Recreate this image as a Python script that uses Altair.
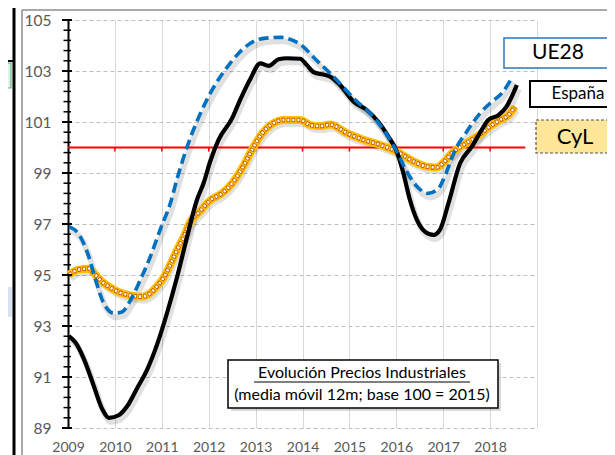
import altair as alt
import pandas as pd

# ---------------- data ----------------
esp_year = [2009.02, 2009.16, 2009.34, 2009.55, 2009.73, 2009.87, 2010.08, 2010.26, 2010.47, 2010.69,
            2010.90, 2011.11, 2011.33, 2011.54, 2011.75, 2011.89, 2012.04, 2012.21, 2012.50, 2012.67,
            2012.89, 2013.10, 2013.28, 2013.49, 2013.67, 2013.95, 2014.09, 2014.24, 2014.45, 2014.59,
            2014.80, 2015.09, 2015.37, 2015.62, 2015.83, 2016.01, 2016.15, 2016.29, 2016.44, 2016.61,
            2016.79, 2016.93, 2017.11, 2017.36, 2017.61, 2017.82, 2017.96, 2018.18, 2018.35, 2018.46,
            2018.57]
esp_val = [92.6, 92.35, 91.7, 90.65, 89.74, 89.4, 89.5, 89.85, 90.55, 91.3,
           92.28, 93.5, 94.95, 96.5, 97.95, 98.6, 99.5, 100.3, 101.15, 101.87,
           102.7, 103.3, 103.2, 103.46, 103.5, 103.48, 103.24, 102.95, 102.86, 102.78,
           102.45, 101.8, 101.47, 101.0, 100.43, 99.84, 99.0, 97.95, 97.16, 96.7,
           96.57, 96.77, 97.8, 99.38, 100.03, 100.69, 101.08, 101.27, 101.6, 101.99,
           102.45]

ue_year = [2009.02, 2009.23, 2009.44, 2009.59, 2009.76, 2009.98, 2010.15, 2010.33, 2010.54, 2010.76,
           2010.97, 2011.18, 2011.33, 2011.54, 2011.79, 2012.07, 2012.35, 2012.64, 2012.89, 2013.17,
           2013.53, 2013.74, 2014.02, 2014.24, 2014.66, 2015.09, 2015.51, 2015.80, 2016.01, 2016.22,
           2016.44, 2016.68, 2016.93, 2017.00, 2017.29, 2017.50, 2017.79, 2018.04, 2018.25, 2018.46]
ue_val = [96.9, 96.6, 95.74, 94.8, 93.9, 93.5, 93.55, 94.0, 94.8, 95.74,
          96.8, 97.8, 98.8, 100.03, 101.2, 102.25, 103.04, 103.7, 104.09, 104.28,
          104.32, 104.24, 103.95, 103.53, 102.78, 101.93, 101.2, 100.5, 99.84, 99.06,
          98.47, 98.2, 98.47, 98.73, 100.03, 100.62, 101.35, 101.8, 102.13, 102.72]

cyl_year = [2009.02, 2009.20, 2009.44, 2009.55, 2009.69, 2009.91, 2010.12, 2010.33, 2010.58, 2010.72,
            2010.90, 2011.04, 2011.18, 2011.33, 2011.47, 2011.61, 2011.79, 2012.04, 2012.28, 2012.50,
            2012.71, 2012.92, 2013.14, 2013.35, 2013.60, 2013.95, 2014.17, 2014.38, 2014.59, 2014.95,
            2015.30, 2015.66, 2016.01, 2016.37, 2016.65, 2016.86, 2017.00, 2017.18, 2017.43, 2017.72,
            2017.99, 2018.21, 2018.39, 2018.53]
cyl_val = [95.0, 95.2, 95.25, 95.08, 94.8, 94.5, 94.3, 94.2, 94.15, 94.24,
           94.56, 94.9, 95.4, 96.0, 96.5, 97.1, 97.45, 97.94, 98.2, 98.6,
           99.18, 99.9, 100.56, 100.92, 101.08, 101.08, 100.88, 100.84, 100.9, 100.56,
           100.3, 100.1, 99.84, 99.45, 99.25, 99.22, 99.4, 99.77, 100.1, 100.43,
           100.82, 101.08, 101.27, 101.6]

year_ticks = list(range(2009, 2020))
y_labels = [89, 91, 93, 95, 97, 99, 101, 103, 105]
minor_ticks = [round(89 + 0.4 * i, 1) for i in range(41)]
ref_value = 100
ref_span = [2009, 2018.75]
ref_tick_years = list(range(2010, 2019))

title_1 = "Evolución Precios Industriales"
title_2 = "(media móvil 12m; base 100 = 2015)"

FONT = "Lato"

# ---------------- tables ----------------
df = pd.concat([
    pd.DataFrame({"year": esp_year, "value": esp_val, "series": "España"}),
    pd.DataFrame({"year": ue_year, "value": ue_val, "series": "UE28"}),
    pd.DataFrame({"year": cyl_year, "value": cyl_val, "series": "CyL"}),
], ignore_index=True)

X = alt.X("year:Q",
          scale=alt.Scale(domain=[2009, 2019], nice=False, zero=False),
          axis=alt.Axis(values=year_ticks, format="d",
                        labelExpr="datum.value >= 2019 ? '' : datum.label",
                        labelOverlap=False, labelFlush=False,
                        grid=True, gridColor="#D9D9D9", gridWidth=1,
                        domain=False, ticks=False, labelPadding=12,
                        labelFontSize=14, labelColor="#595959", labelFont=FONT,
                        title=None))
Y = alt.Y("value:Q",
          scale=alt.Scale(domain=[89, 105], nice=False, zero=False),
          axis=alt.Axis(values=y_labels, grid=True, gridDash=[4, 3], gridColor="#BFBFBF",
                        domain=True, domainColor="black", domainWidth=2,
                        labelOverlap=False, labelFlush=False,
                        ticks=False, labelPadding=17, labelFontSize=15.5,
                        labelColor="#595959", labelFont=FONT, title=None))

base = alt.Chart(df)

def series(name):
    return base.transform_filter(alt.datum.series == name)

shadow = base.mark_line(color="#000000", opacity=0.12, strokeWidth=6, xOffset=2, yOffset=4,
                        interpolate="monotone").encode(x=X, y=Y, detail="series:N")

# reference line at 100
ref_df = pd.DataFrame({"year": [ref_span[0]], "year2": [ref_span[1]], "value": [ref_value]})
ref_line = alt.Chart(ref_df).mark_rule(color="#FF0000", strokeWidth=2).encode(
    x=alt.X("year:Q"), x2="year2:Q", y=alt.Y("value:Q"))
ref_ticks_df = pd.DataFrame({"year": ref_tick_years, "value": [ref_value] * len(ref_tick_years),
                             "value2": [ref_value - 0.16] * len(ref_tick_years)})
ref_ticks = alt.Chart(ref_ticks_df).mark_rule(color="#FF0000", strokeWidth=1.5).encode(
    x=alt.X("year:Q"), y=alt.Y("value:Q"), y2="value2:Q")

cyl_gold = series("CyL").mark_line(color="#FFC000", strokeWidth=8, interpolate="monotone").encode(x=X, y=Y)
cyl_ring = series("CyL").mark_line(color="#C55A11", strokeWidth=4.6, strokeDash=[3.5, 1.5],
                                   interpolate="monotone").encode(x=X, y=Y)
cyl_dot = series("CyL").mark_line(color="#FFFFFF", strokeWidth=2.6, strokeDash=[2, 3],
                                  strokeDashOffset=4.25, interpolate="monotone").encode(x=X, y=Y)
esp_line = series("España").mark_line(color="#000000", strokeWidth=4.2,
                                      interpolate="monotone").encode(x=X, y=Y)
ue_line = series("UE28").mark_line(color="#0070C0", strokeWidth=3.6, strokeDash=[10, 5],
                                   interpolate="monotone").encode(x=X, y=Y)

# crossing y-axis ticks
minor_df = pd.DataFrame({"value": minor_ticks})
minor = alt.Chart(minor_df).mark_rule(color="black", strokeWidth=1.5).encode(
    y=alt.Y("value:Q"), x=alt.value(-4.5), x2=alt.value(3))
major_df = pd.DataFrame({"value": y_labels})
major = alt.Chart(major_df).mark_rule(color="black", strokeWidth=2).encode(
    y=alt.Y("value:Q"), x=alt.value(-6), x2=alt.value(4))

# ---------------- decorations (pixel positions) ----------------
one = pd.DataFrame({"k": [0]})

def box(x, x2, y, y2, fill, stroke, sw, dash=None, opacity=1.0):
    kw = dict(fill=fill, stroke=stroke, strokeWidth=sw, opacity=opacity)
    if dash:
        kw["strokeDash"] = dash
    return alt.Chart(one).mark_rect(**kw).encode(
        x=alt.value(x), x2=alt.value(x2), y=alt.value(y), y2=alt.value(y2))

def label(text, x, y, size, **kw):
    return alt.Chart(one).mark_text(text=text, font=FONT, fontSize=size, color="black",
                                    align="center", baseline="middle", **kw).encode(
        x=alt.value(x), y=alt.value(y))

def hline(x, x2, y, color, sw):
    return alt.Chart(one).mark_rule(color=color, strokeWidth=sw).encode(
        x=alt.value(x), x2=alt.value(x2), y=alt.value(y))

def vline(x, y, y2, color, sw):
    return alt.Chart(one).mark_rule(color=color, strokeWidth=sw).encode(
        x=alt.value(x), y=alt.value(y), y2=alt.value(y2))

deco = [
    vline(-54, -20, 445, "#000000", 3),
    vline(-46, -10, 445, "#8C8C8C", 1.5),
    hline(-46, 560, -10, "#8C8C8C", 1.5),
    hline(-62, -54, 41, "#000000", 2),
    box(-62, -57, 43, 68, "#E2F0E8", "#5BB77E", 1.2),
    box(-62, -56, 267, 297, "#D9E1F2", "#D9E1F2", 0),
    # legend-like labels
    box(436, 560, 18, 48, "#FFFFFF", "#2E75B6", 1.5),
    label("UE28", 490, 33, 21),
    box(462, 560, 61, 87, "#FFFFFF", "#000000", 2),
    label("España", 510, 74, 17),
    box(468, 560, 100, 133, "#FFE699", "#44546A", 1.2, dash=[3, 2]),
    label("CyL", 507, 117, 22),
    # annotation box
    box(163, 433, 343, 391, "#000000", "#000000", 0, opacity=0.15),
    box(160, 430, 340, 388, "#FFFFFF", "#000000", 1.5),
    label(title_1, 294, 353, 16),
    hline(186, 402, 362, "#000000", 1.2),
    label(title_2, 294, 374.5, 16),
]

chart = alt.layer(
    shadow, ref_line, ref_ticks, cyl_gold, cyl_ring, cyl_dot, esp_line, ue_line,
    minor, major, *deco
).properties(
    width=469, height=408,
    padding={"left": 60, "top": 12, "right": 70, "bottom": 29},
    autosize=alt.AutoSizeParams(type="none"),
    background="#FFFFFF",
).configure_view(stroke=None)

chart.save("out.html", embed_options={"renderer": "svg", "actions": False})
